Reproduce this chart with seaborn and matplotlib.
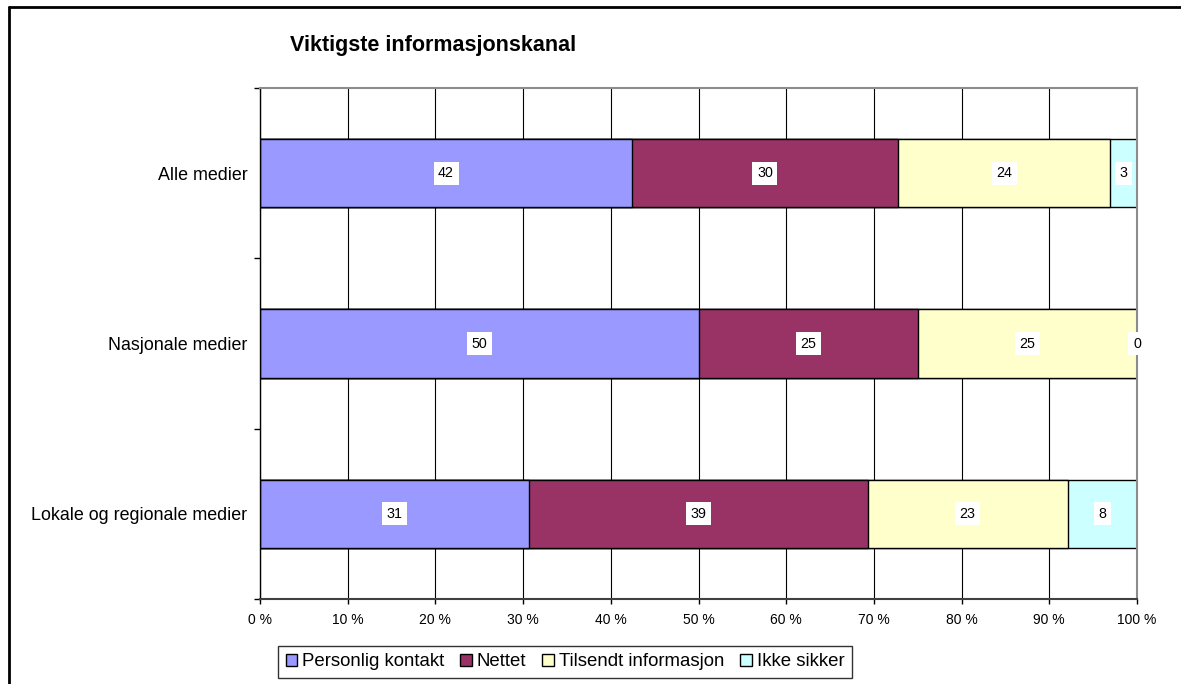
import matplotlib
matplotlib.use("Agg")
import matplotlib.pyplot as plt
from matplotlib.patches import Patch
from matplotlib.lines import Line2D
import numpy as np
import pandas as pd
import seaborn as sns

# Survey answers per media group (raw shares; each row is scaled to 100 %)
categories = ["Alle medier", "Nasjonale medier", "Lokale og regionale medier"]
series_names = ["Personlig kontakt", "Nettet", "Tilsendt informasjon", "Ikke sikker"]
personlig_kontakt = [42, 50, 31]
nettet = [30, 25, 39]
tilsendt_informasjon = [24, 25, 23]
ikke_sikker = [3, 0, 8]
x_ticks = [0, 10, 20, 30, 40, 50, 60, 70, 80, 90, 100]
title = "Viktigste informasjonskanal"

colors = ["#9999FF", "#993366", "#FFFFCC", "#CCFFFF"]

sns.set_style("white")
plt.rcParams["font.family"] = ["Liberation Sans", "DejaVu Sans"]
plt.rcParams["text.color"] = "black"
plt.rcParams["xtick.color"] = "black"
plt.rcParams["ytick.color"] = "black"
plt.rcParams["xtick.labelcolor"] = "black"
plt.rcParams["ytick.labelcolor"] = "black"

raw = np.array([personlig_kontakt, nettet, tilsendt_informasjon, ikke_sikker], dtype=float)
pct = raw / raw.sum(axis=0) * 100.0
cum = np.cumsum(pct, axis=0)

W, H = 1181, 684
fig = plt.figure(figsize=(W / 100, H / 100), dpi=100)
ax = fig.add_axes([260 / W, 1 - 599 / H, (1137 - 260) / W, (599 - 88) / H])

# Vertical gridlines behind the bars
for t in x_ticks:
    ax.axvline(t, color="black", linewidth=0.8, zorder=0)

# Stacked bars: draw cumulative totals from the outermost segment inwards
for i in range(len(series_names) - 1, -1, -1):
    df = pd.DataFrame({"kategori": categories, "verdi": cum[i]})
    sns.barplot(data=df, x="verdi", y="kategori", order=categories, orient="h",
                color=colors[i], saturation=1, width=0.4, edgecolor="black",
                linewidth=1.0, ax=ax, zorder=2)

# Value labels centred on each segment
for i in range(len(series_names)):
    for j in range(len(categories)):
        start = cum[i][j] - pct[i][j]
        ax.text(start + pct[i][j] / 2, j, f"{raw[i][j]:.0f}", ha="center", va="center",
                fontsize=10.3, color="black", zorder=5,
                bbox=dict(boxstyle="square,pad=0.32", facecolor="white", edgecolor="none"))

ax.set_xlim(0, 100)
ax.set_ylim(2.5, -0.5)
ax.set_xlabel("")
ax.set_ylabel("")
ax.set_xticks(x_ticks)
ax.set_xticklabels([f"{t} %" for t in x_ticks], fontsize=10)
ax.set_yticks(range(len(categories)))
ax.set_yticklabels(categories, fontsize=12.9)
ax.set_yticks([-0.5, 0.5, 1.5, 2.5], minor=True)
ax.tick_params(axis="y", which="both", left=True)
ax.tick_params(axis="y", which="major", length=0, pad=9)
ax.tick_params(axis="y", which="minor", length=4.5, width=1, color="black", direction="out")
ax.tick_params(axis="x", which="major", bottom=True, length=3.6, width=1, color="black",
               direction="out", pad=6.5)
ax.grid(False)

for side in ["top", "right"]:
    ax.spines[side].set_visible(True)
    ax.spines[side].set_color("#8c8c8c")
    ax.spines[side].set_linewidth(1.5)
ax.spines["left"].set_color("black")
ax.spines["left"].set_linewidth(1.0)
ax.spines["bottom"].set_color("#404040")
ax.spines["bottom"].set_linewidth(1.5)

fig.text(290 / W, 1 - 45 / H, title, fontsize=15.5, fontweight="bold", ha="left", va="center")

handles = [Patch(facecolor=c, edgecolor="black", linewidth=1.0) for c in colors]
leg = fig.legend(handles, series_names, loc="center", bbox_to_anchor=(565 / W, 1 - 662 / H),
                 ncol=4, fontsize=13.4, frameon=True, fancybox=False, handlelength=0.62,
                 handleheight=0.62, handletextpad=0.27, columnspacing=0.85, borderpad=0.4,
                 borderaxespad=0)
leg.get_frame().set_edgecolor("black")
leg.get_frame().set_linewidth(1.0)

# Outer chart frame (top and left edges)
fig.add_artist(Line2D([9 / W, 1.0], [1 - 7 / H, 1 - 7 / H], transform=fig.transFigure,
                      color="black", linewidth=2.0))
fig.add_artist(Line2D([9 / W, 9 / W], [0.0, 1 - 7 / H], transform=fig.transFigure,
                      color="black", linewidth=2.0))

fig.savefig("out.png", dpi=100, facecolor="white")
